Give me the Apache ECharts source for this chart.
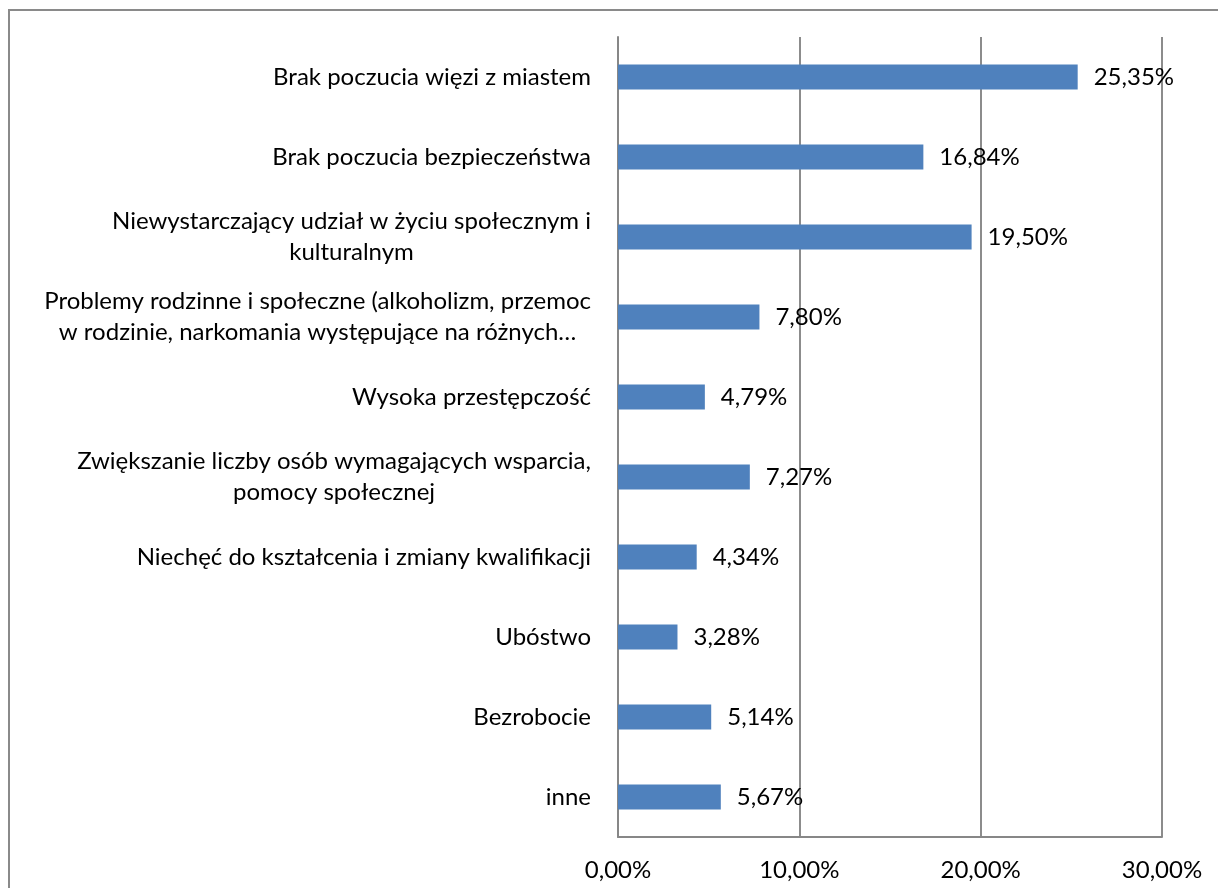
<!DOCTYPE html>
<html>
<head>
<meta charset="utf-8">
<script src="https://cdn.jsdelivr.net/npm/echarts@6/dist/echarts.min.js"></script>
<style>
  html, body { margin: 0; padding: 0; background: #fff; }
  #chart { width: 1218px; height: 888px; }
</style>
</head>
<body>
<div id="chart"></div>
<script>
// Categories, top to bottom
const categories = [
  'Brak poczucia więzi z miastem',
  'Brak poczucia bezpieczeństwa',
  'Niewystarczający udział w życiu społecznym i\nkulturalnym',
  'Problemy rodzinne i społeczne (alkoholizm, przemoc\nw rodzinie, narkomania występujące na różnych…',
  'Wysoka przestępczość',
  'Zwiększanie liczby osób wymagających wsparcia,\npomocy społecznej',
  'Niechęć do kształcenia i zmiany kwalifikacji',
  'Ubóstwo',
  'Bezrobocie',
  'inne'
];
// Share of answers, in percent
const values = [25.35, 16.84, 19.50, 7.80, 4.79, 7.27, 4.34, 3.28, 5.14, 5.67];
// Value axis ticks, in percent
const axisTicks = [0, 10, 20, 30];

const FONT = 'Lato, "Open Sans", sans-serif';
const FS = 24;
const fmtPct = v => v.toFixed(2).replace('.', ',') + '%';

const chart = echarts.init(document.getElementById('chart'), null, { renderer: 'canvas' });
chart.setOption({
  animation: false,
  backgroundColor: '#ffffff',
  textStyle: { fontFamily: FONT },
  graphic: [{
    type: 'rect',
    shape: { x: 9, y: 10, width: 1400, height: 1000 },
    style: { fill: 'none', stroke: '#8a8a8a', lineWidth: 2 },
    silent: true
  }],
  grid: { left: 618, right: 56, top: 37, bottom: 51, containLabel: false },
  xAxis: {
    type: 'value',
    min: axisTicks[0],
    max: axisTicks[axisTicks.length - 1],
    interval: axisTicks[1] - axisTicks[0],
    axisLine: { show: true, lineStyle: { color: '#878787', width: 2 } },
    axisTick: { show: false },
    splitLine: { show: true, lineStyle: { color: '#8c8c8c', width: 2 } },
    axisLabel: {
      color: '#000', fontFamily: FONT, fontSize: FS, margin: 21,
      formatter: v => fmtPct(v)
    }
  },
  yAxis: {
    type: 'category',
    inverse: true,
    data: categories,
    axisLine: { show: true, lineStyle: { color: '#878787', width: 2 } },
    axisTick: { show: false },
    splitLine: { show: false },
    axisLabel: {
      color: '#000', margin: 27, align: 'right',
      formatter: v => v.split('\n').map(l => '{c|' + l + '}').join('\n'),
      rich: {
        c: { align: 'center', fontFamily: FONT, fontSize: FS, lineHeight: 31, color: '#000' }
      }
    }
  },
  series: [{
    type: 'bar',
    data: values,
    barWidth: 25,
    itemStyle: { color: '#4f81bd' },
    label: {
      show: true, position: 'right', distance: 16,
      color: '#000', fontFamily: FONT, fontSize: FS,
      formatter: p => fmtPct(p.value)
    }
  }]
});
</script>
</body>
</html>
